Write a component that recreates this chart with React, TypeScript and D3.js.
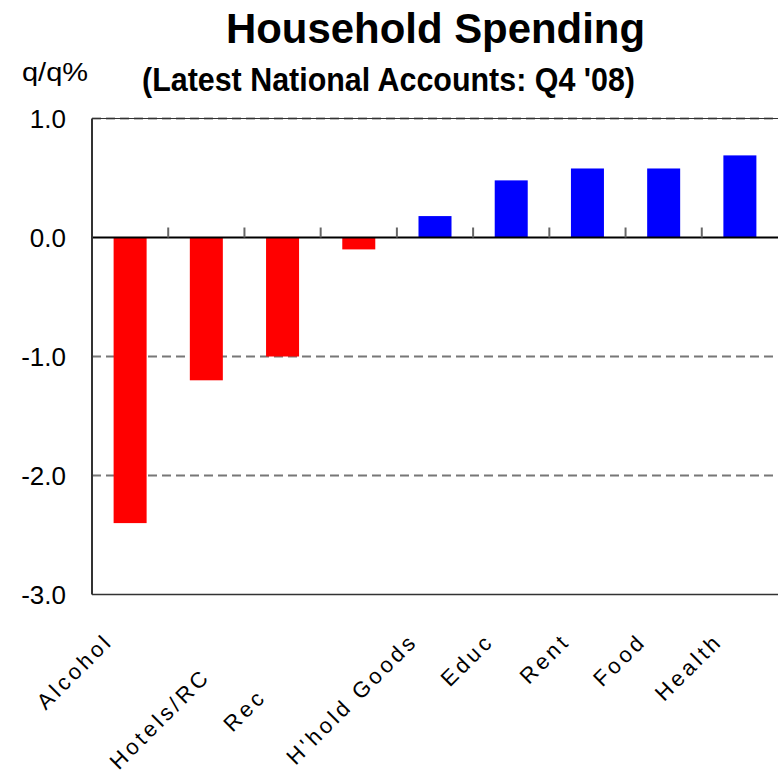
import React from "react";
import * as d3 from "d3";

// ---- data ----
const categories: string[] = [
  "Alcohol",
  "\n\nHotels/RC ",
  "\n\nRec    ",
  "",
  "H'hold Goods",
  "Educ",
  "Rent",
  "Food",
  "Health",
];
const values: number[] = [-2.4, -1.2, -1.0, -0.1, 0.18, 0.48, 0.58, 0.58, 0.69];
const yTickValues: number[] = [1.0, 0.0, -1.0, -2.0, -3.0];
const yTickLabels: string[] = ["1.0", "0.0", "-1.0", "-2.0", "-3.0"];
const gridValues: number[] = [1.0, -1.0, -2.0];
const title = "Household Spending";
const subtitle = "(Latest National Accounts: Q4 '08)";
const yUnit = "q/q%";

const W = 778;
const H = 777;
const plotLeft = 92;
const plotRight = 778;
const plotTop = 118.5;
const plotBottom = 594.5;
const FONT = "'Liberation Sans', Arial, sans-serif";

export default function App() {
  const y = d3.scaleLinear().domain([-3, 1]).range([plotBottom, plotTop]);
  const x = d3
    .scaleBand<number>()
    .domain(d3.range(categories.length))
    .range([plotLeft, plotRight])
    .paddingInner(0.567)
    .paddingOuter(0.2835);
  const bw = x.bandwidth();
  const step = x.step();

  return (
    <div style={{ position: "fixed", left: 0, top: 0, width: W, height: H, background: "#fff" }}>
      <svg width={W} height={H} style={{ display: "block" }}>
        <rect x={0} y={0} width={W} height={H} fill="#fff" />
        {/* titles */}
        <text
          x={435.5}
          y={43}
          textAnchor="middle"
          fontFamily={FONT}
          fontWeight="bold"
          fontSize={42}
          textLength={419}
          lengthAdjust="spacingAndGlyphs"
        >
          {title}
        </text>
        <text
          x={388.5}
          y={91}
          textAnchor="middle"
          fontFamily={FONT}
          fontWeight="bold"
          fontSize={33}
          textLength={493}
          lengthAdjust="spacingAndGlyphs"
        >
          {subtitle}
        </text>
        <text
          x={22}
          y={81}
          fontFamily={FONT}
          fontSize={25}
          textLength={66}
          lengthAdjust="spacingAndGlyphs"
        >
          {yUnit}
        </text>

        {/* grid */}
        {gridValues.map((v) => (
          <line
            key={"g" + v}
            x1={plotLeft}
            x2={plotRight}
            y1={y(v)}
            y2={y(v)}
            stroke="#777"
            strokeWidth={2}
            strokeDasharray="9,5"
          />
        ))}
        <line x1={plotLeft} x2={plotRight} y1={plotTop} y2={plotTop} stroke="#333" strokeWidth={1} />
        <line x1={plotLeft} x2={plotRight} y1={plotBottom} y2={plotBottom} stroke="#333" strokeWidth={1.5} />

        {/* bars */}
        {values.map((v, i) => (
          <rect
            key={"b" + i}
            x={x(i)!}
            y={y(Math.max(0, v))}
            width={bw}
            height={Math.abs(y(v) - y(0))}
            fill={v < 0 ? "#FF0000" : "#0000FF"}
          />
        ))}

        {/* zero line and category ticks */}
        <line x1={plotLeft} x2={plotRight} y1={y(0)} y2={y(0)} stroke="#000" strokeWidth={2} />
        {d3.range(1, categories.length).map((k) => (
          <line
            key={"t" + k}
            x1={plotLeft + k * step}
            x2={plotLeft + k * step}
            y1={y(0) - 10}
            y2={y(0)}
            stroke="#666"
            strokeWidth={2}
          />
        ))}

        {/* y axis */}
        <line x1={plotLeft} x2={plotLeft} y1={plotTop} y2={plotBottom} stroke="#333" strokeWidth={2} />
        {yTickValues.map((v, i) => (
          <text
            key={"yl" + i}
            x={66}
            y={y(v)}
            dy="0.35em"
            textAnchor="end"
            fontFamily={FONT}
            fontSize={26}
            fill="#000"
          >
            {yTickLabels[i]}
          </text>
        ))}

        {/* x labels */}
        {categories.map((c, i) => {
          const lines = c.split("\n");
          const cx = x(i)! + bw / 2 - 16;
          const cy = plotBottom + 48;
          return (
            <text
              key={"xl" + i}
              transform={`translate(${cx},${cy}) rotate(-45)`}
              textAnchor="end"
              fontFamily={FONT}
              fontSize={22}
              letterSpacing="3.5px"
              style={{ whiteSpace: "pre" }}
              fill="#000"
            >
              {lines.map((ln, j) => (
                <tspan key={j} x={0} y={j * 20}>
                  {ln}
                </tspan>
              ))}
            </text>
          );
        })}
      </svg>
    </div>
  );
}
